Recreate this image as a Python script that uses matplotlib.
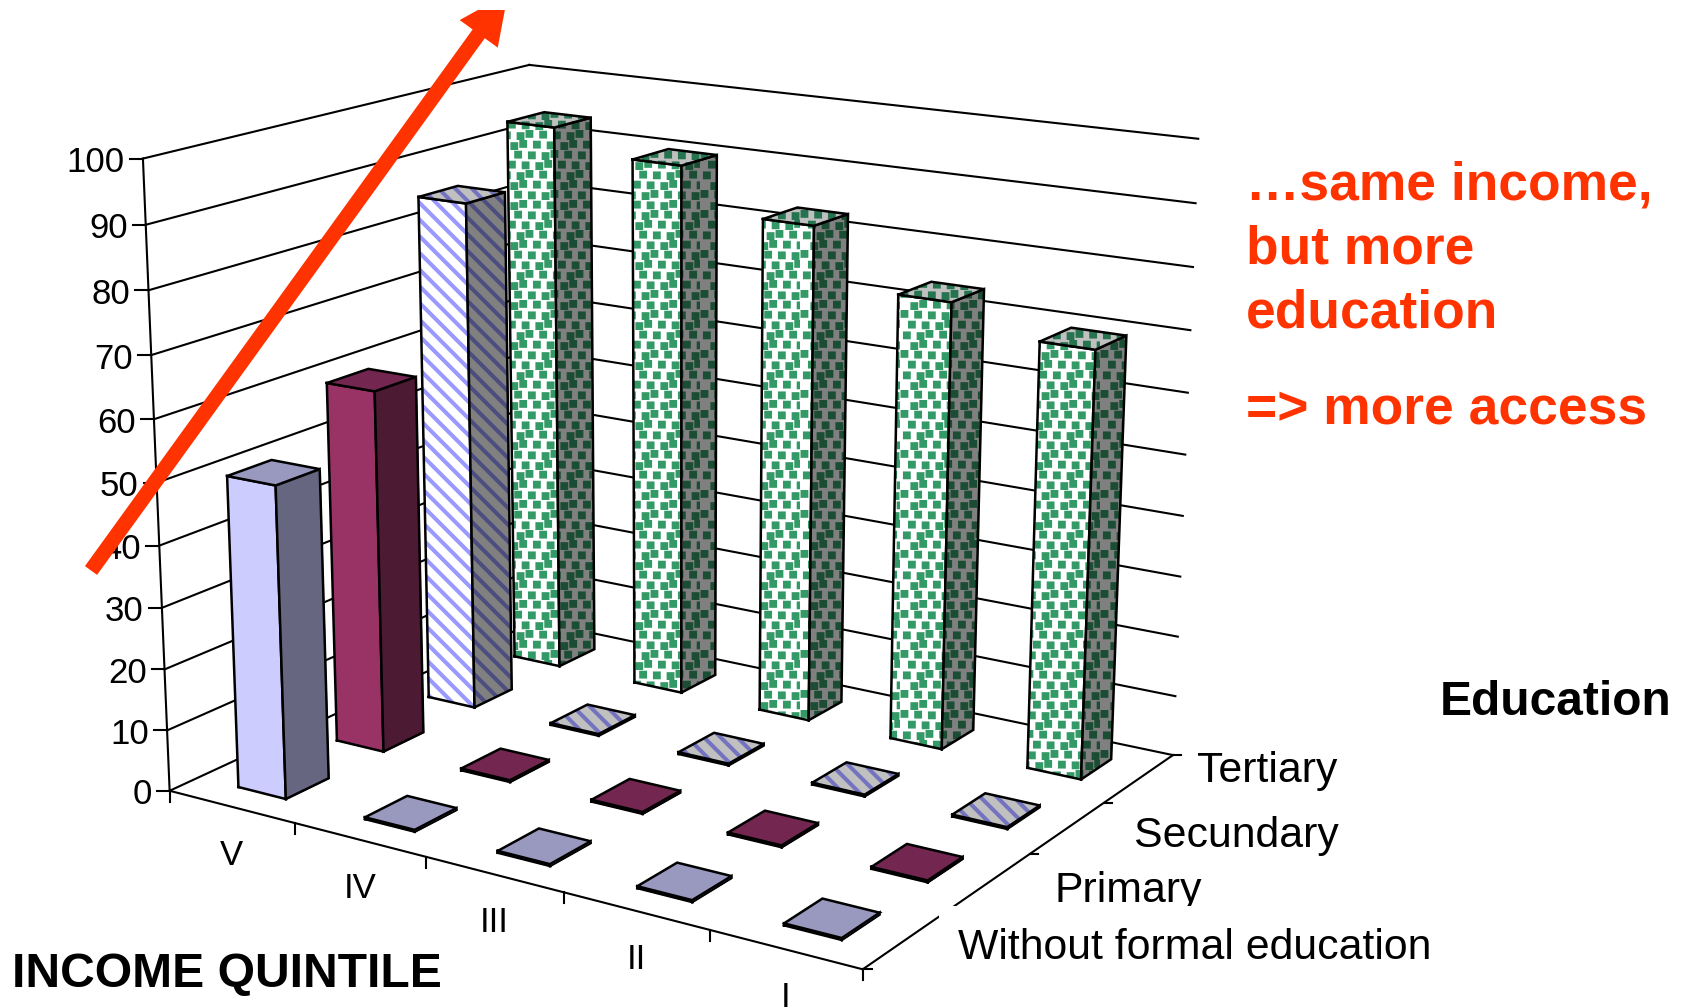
import numpy as np
import matplotlib
matplotlib.use('Agg')
import matplotlib as mpl
import matplotlib.pyplot as plt
from matplotlib import hatch as mhatch
from matplotlib.lines import Line2D
from matplotlib.patches import FancyArrow, Rectangle
from matplotlib.path import Path
from matplotlib.transforms import Affine2D, IdentityTransform
from mpl_toolkits.mplot3d import proj3d
from mpl_toolkits.mplot3d.art3d import Poly3DCollection

# ---------- data ----------
quintiles = ['V', 'IV', 'III', 'II', 'I']
education = ['Without formal education', 'Primary', 'Secundary', 'Tertiary']
without_formal = [50.6, 0.3, 0.3, 0.3, 0.3]
primary = [59.8, 0.3, 0.3, 0.3, 0.3]
secundary = [85.3, 0.3, 0.3, 0.3, 0.3]
tertiary = [93.7, 90.0, 83.0, 73.8, 69.6]
z_ticks = [0, 10, 20, 30, 40, 50, 60, 70, 80, 90, 100]

# ---------- styles ----------
FONT = 'Liberation Sans'
RED = '#FF3300'
W_PX, H_PX = 1685, 1007
BAR_W, BAR_D = 0.38, 0.43
# front, side, top: (face colour, hatch colour)
styles = [
    dict(hatch=None, front=('#CCCCFF', '#CCCCFF'), side=('#666680', '#666680'), top=('#9999BF', '#9999BF')),
    dict(hatch=None, front=('#993366', '#993366'), side=('#4D1A33', '#4D1A33'), top=('#732650', '#732650')),
    dict(hatch='\\\\', front=('#FFFFFF', '#9999FF'), side=('#808080', '#4D4D80'), top=('#C0C0C0', '#7373BF')),
    dict(hatch='*', front=('#FFFFFF', '#339966'), side=('#808080', '#1A4D33'), top=('#C0C0C0', '#267350')),
]


class DitherSquares(mhatch.HatchPatternBase):
    """Small staggered squares, like the office 'dotted' fill pattern."""
    rows, cols, half = 10, 8, 0.019

    def __init__(self, pattern, density):
        self.n = self.rows * self.cols if '*' in pattern else 0
        self.num_vertices = 5 * self.n

    def set_vertices_and_codes(self, vertices, codes):
        k = 0
        for r in range(self.rows):
            for c in range(self.cols):
                jit = ((r * 3 + c * 5) % 4 - 1.5) * 0.012
                cx = (c + 0.5 + 0.5 * (r % 2)) / self.cols + jit
                cy = (r + 0.5) / self.rows - jit * 0.6
                h = self.half
                vertices[k:k + 5] = [(cx - h, cy - h), (cx + h, cy - h), (cx + h, cy + h),
                                     (cx - h, cy + h), (cx - h, cy - h)]
                codes[k:k + 5] = [Path.MOVETO, Path.LINETO, Path.LINETO, Path.LINETO, Path.CLOSEPOLY]
                k += 5


mhatch._hatch_types[:] = [t for t in mhatch._hatch_types if t is not mhatch.Stars] + [DitherSquares]
mpl.rcParams['hatch.linewidth'] = 2.9

fig = plt.figure(figsize=(W_PX / 100, H_PX / 100), dpi=100, facecolor='white')
ax = fig.add_axes([69.71 / W_PX, -69.85 / H_PX, 1184.7 / W_PX, 1184.7 / H_PX], projection='3d',
                  computed_zorder=False)
ax.set_xlim(0, 5)
ax.set_ylim(0, len(education))
ax.set_zlim(0, 100)
ax.view_init(elev=16.0114, azim=-57.1343)
ax.set_proj_type('persp', focal_length=0.5538)
ax.set_box_aspect((1.2458, 0.9922, 1))
ax.set_axis_off()
ax.patch.set_alpha(0)
ax.apply_aspect()

px = Affine2D().scale(1, -1).translate(0, H_PX)   # figure pixels, y downwards
M = ax.get_proj()


def screen(x, y, z):
    tx, ty, _ = proj3d.proj_transform(x, y, z, M)
    return ax.transData.transform((tx, ty))


def stub(x, y, z, dx, dy):
    a = screen(x, y, z)
    fig.add_artist(Line2D([a[0], a[0] + dx], [a[1], a[1] + dy], color='k', lw=1.5,
                          transform=IdentityTransform()))


nx, ny = len(quintiles), len(education)
gk = dict(color='k', lw=1.5, zorder=1)
for z in z_ticks:
    ax.plot([0, 0], [0, ny], [z, z], **gk)
    ax.plot([0, nx], [ny, ny], [z, z], **gk)
ax.plot([0, 0], [0, 0], [0, 100], **gk)
ax.plot([0, nx], [0, 0], [0, 0], **gk)
ax.plot([nx, nx], [0, ny], [0, 0], **gk)


def faces(i, j, h):
    x0, x1 = i + 0.51 - BAR_W / 2, i + 0.51 + BAR_W / 2
    y0, y1 = j + 0.5 - BAR_D / 2, j + 0.5 + BAR_D / 2
    return dict(
        front=[(x0, y0, 0), (x1, y0, 0), (x1, y0, h), (x0, y0, h)],
        side=[(x1, y0, 0), (x1, y1, 0), (x1, y1, h), (x1, y0, h)],
        top=[(x0, y0, h), (x1, y0, h), (x1, y1, h), (x0, y1, h)],
    )


series = [without_formal, primary, secundary, tertiary]
zo = 10
for j in reversed(range(ny)):
    for i in range(nx):
        st = styles[j]
        fs = faces(i, j, series[j][i])
        for name in ('front', 'side', 'top'):
            fc, hc = st[name]
            # the hatch takes the colour of the edge, so the outline is a separate line
            fill = Poly3DCollection([fs[name]], facecolors=fc, edgecolors=hc, linewidths=0.5,
                                    hatch=st['hatch'], zorder=zo)
            ax.add_collection3d(fill, autolim=False)
            xs, ys, zs = zip(*(fs[name] + fs[name][:1]))
            ax.plot(xs, ys, zs, color='k', lw=1.8, solid_joinstyle='miter', zorder=zo + 1)
            zo += 2

# ticks
for z in z_ticks:
    stub(0, 0, z, -13, 0)
    a = screen(0, 0, z)
    fig.text(a[0] - 18, a[1] - 4, str(z), ha='right', va='center', family=FONT, fontsize=25,
             transform=IdentityTransform())
for i in range(nx + 1):
    stub(i, 0, 0, 0, -11)
stub(nx, 0, 0, 9, 0)
for j in range(1, ny + 1):
    stub(nx, j, 0, 8, 0)
for i, q in enumerate(quintiles):
    a = screen(i + 0.5, 0, 0)
    fig.text(a[0], a[1] - 58, q, ha='center', va='baseline', family=FONT, fontsize=25,
             transform=IdentityTransform())

# education labels, pixel anchored like the original slide text
t = dict(family=FONT, fontsize=30.8, va='baseline', transform=px)
fig.text(1197, 782, education[3], **t)
fig.text(1134, 847, education[2], **t)
fig.text(1055, 902, education[1], **t)
fig.add_artist(Rectangle((939, 906), 520, 70, facecolor='white', edgecolor='none', transform=px, zorder=4))
fig.text(958, 959, education[0], zorder=5, **t)

b = dict(family=FONT, fontweight='bold', va='baseline', transform=px)
fig.text(1440, 715, 'Education', fontsize=34.5, **b)
fig.text(12, 987, 'INCOME QUINTILE', fontsize=34.6, **b)
for s, y in [('\u2026same income,', 200), ('but more', 264), ('education', 328), ('=> more access', 424)]:
    fig.text(1246, y, s, fontsize=38.4, color=RED, **b)

# red arrow, running off the top of the slide
fig.add_artist(FancyArrow(91, 570.5, 508 - 91, -6.7 - 570.5, width=15, head_width=47, head_length=50,
                          length_includes_head=True, facecolor=RED, edgecolor='none',
                          transform=px, zorder=8))
fig.add_artist(Rectangle((0, 0), W_PX, 10, facecolor='white', edgecolor='none', transform=px, zorder=9))

fig.savefig('out.png', dpi=100)
